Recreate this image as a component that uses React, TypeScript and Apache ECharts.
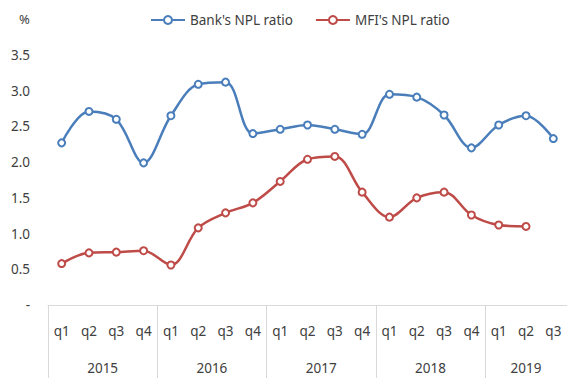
import React, { useEffect, useRef } from "react";
import * as echarts from "echarts";

const quarters = [
  "q1", "q2", "q3", "q4",
  "q1", "q2", "q3", "q4",
  "q1", "q2", "q3", "q4",
  "q1", "q2", "q3", "q4",
  "q1", "q2", "q3",
];
const years = ["2015", "2016", "2017", "2018", "2019"];
const quartersPerYear = [4, 4, 4, 4, 3];
const bankNPL = [2.27, 2.71, 2.6, 1.99, 2.65, 3.09, 3.12, 2.4, 2.46, 2.52, 2.46, 2.39, 2.95, 2.91, 2.66, 2.2, 2.52, 2.65, 2.33];
const mfiNPL: (number | null)[] = [0.58, 0.73, 0.74, 0.76, 0.56, 1.08, 1.29, 1.43, 1.73, 2.04, 2.08, 1.58, 1.23, 1.5, 1.58, 1.26, 1.12, 1.1, null];
const seriesNames = ["Bank's NPL ratio", "MFI's NPL ratio"];

export default function App() {
  const ref = useRef<HTMLDivElement>(null);
  useEffect(() => {
    if (!ref.current) return;
    const chart = echarts.init(ref.current, null, { renderer: "svg" });
    const halfCount = quarters.length * 2 + 1;
    const halfData: string[] = [];
    const yearAt: Record<number, string> = {};
    const boundaries = new Set<number>();
    let pos = 0;
    boundaries.add(0);
    years.forEach((y, i) => {
      const n = quartersPerYear[i];
      yearAt[pos + n] = y;
      pos += n * 2;
      boundaries.add(pos);
    });
    for (let i = 0; i < halfCount; i++) halfData.push(String(i));
    const font = "Noto Sans";
    chart.setOption({
      animation: false,
      textStyle: { fontFamily: font },
      title: {
        text: "%",
        left: 14,
        top: 7,
        textStyle: { fontFamily: font, fontSize: 13, fontWeight: "normal", color: "#404040" },
      },
      legend: {
        left: 145,
        top: 8,
        itemWidth: 34,
        itemHeight: 10,
        itemGap: 22,
        textStyle: { fontFamily: font, fontSize: 13.5, color: "#404040" },
        data: seriesNames,
      },
      grid: { left: 48, right: -4, top: 55, bottom: 73 },
      xAxis: [
        {
          type: "category",
          data: quarters,
          position: "bottom",
          axisLine: { show: true, lineStyle: { color: "#d9d9d9", width: 1 } },
          axisTick: { show: false },
          axisLabel: { interval: 0, margin: 19, color: "#404040", fontSize: 13.5, fontFamily: font },
        },
        {
          type: "category",
          data: halfData,
          boundaryGap: false,
          position: "bottom",
          axisLine: { show: false },
          axisTick: {
            show: true,
            length: 74,
            interval: (idx: number) => boundaries.has(idx),
            lineStyle: { color: "#d9d9d9", width: 1 },
          },
          axisLabel: {
            interval: (idx: number) => yearAt[idx] !== undefined,
            formatter: (_v: string, idx: number) => yearAt[idx] || "",
            margin: 56,
            color: "#404040",
            fontSize: 13.5,
            fontFamily: font,
          },
        },
      ],
      yAxis: {
        type: "value",
        min: 0,
        max: 3.5,
        interval: 0.5,
        axisLine: { show: false },
        axisTick: { show: false },
        splitLine: { show: false },
        axisLabel: {
          margin: 18,
          color: "#404040",
          fontSize: 13.5,
          fontFamily: font,
          formatter: (v: number) => (v === 0 ? "-" : v.toFixed(1)),
        },
      },
      series: [
        {
          name: seriesNames[0],
          type: "line",
          xAxisIndex: 0,
          data: bankNPL,
          smooth: 0.35,
          symbol: "circle",
          symbolSize: 7,
          lineStyle: { color: "#4a7ebb", width: 2.5 },
          itemStyle: { color: "#ffffff", borderColor: "#4a7ebb", borderWidth: 2 },
        },
        {
          name: seriesNames[1],
          type: "line",
          xAxisIndex: 0,
          data: mfiNPL,
          smooth: 0.35,
          symbol: "circle",
          symbolSize: 7,
          lineStyle: { color: "#be4b48", width: 2.5 },
          itemStyle: { color: "#ffffff", borderColor: "#be4b48", borderWidth: 2 },
        },
      ],
    });
    return () => chart.dispose();
  }, []);
  return (
    <div
      ref={ref}
      style={{ position: "fixed", left: 0, top: 0, width: 567, height: 378, background: "#ffffff" }}
    />
  );
}
